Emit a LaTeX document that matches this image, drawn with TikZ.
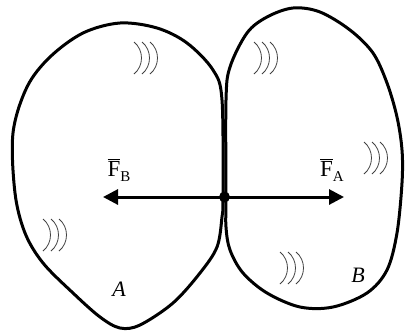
\documentclass[tikz,border=0pt]{standalone}
\usepackage{fontspec}
\setmainfont{Liberation Serif}
\usetikzlibrary{arrows.meta}
\newcommand{\forcelbl}[1]{$\overline{\hbox{F}}$\raisebox{-5pt}{\fontsize{15}{15}\selectfont #1}}
\begin{document}
\begin{tikzpicture}[x=1pt,y=-1pt,
  blob/.style={line width=3pt, line join=round},
  force/.style={line width=3pt, -{Triangle[length=15pt,width=15pt]}},
  lbl/.style={font=\fontsize{23}{25}\selectfont, inner sep=0pt},
  body/.style={font=\fontsize{22}{24}\selectfont\itshape, inner sep=0pt},
  hatch/.pic={\foreach \dx in {0,8,16}{\draw[line width=0.8pt, black!75] ([xshift=\dx pt]-3,-16) .. controls (7+\dx,-8) and (7+\dx,8) .. (-3+\dx,16);}}]
\useasboundingbox (0,0) rectangle (405,333);
% body A
\draw[blob] plot[smooth cycle, tension=0.55] coordinates {
 (223,197) (222,217) (217,247) (200,273) (173,303) (140,325) (120,328) (100,317)
 (73,293) (43,263) (25,233) (15,193) (13,133) (27,87) (50,57) (83,33) (120,23)
 (157,28) (187,43) (213,70) (222,100)};
% body B
\draw[blob] plot[smooth cycle, tension=0.55] coordinates {
 (226,197) (226,100) (230,67) (247,33) (267,17) (293,8) (320,12) (350,30)
 (373,53) (387,83) (397,117) (402,150) (402,183) (397,233) (387,270) (367,293)
 (333,307) (300,307) (267,293) (243,273) (230,250) (226,227)};
% hatch marks
\pic at (137,58) {hatch};
\pic at (46,235) {hatch};
\pic at (257,58) {hatch};
\pic at (367,158) {hatch};
\pic at (283,268) {hatch};
% forces
\node[circle, fill=black, minimum size=11pt, inner sep=0pt] (contact) at (224.5,197) {};
\coordinate (fb) at (103,197);
\coordinate (fa) at (344,197);
\draw[force] (contact.center) -- (fb);
\draw[force] (contact.center) -- (fa);
\node[lbl] (FB) at (119,170) {\forcelbl{B}};
\node[lbl] (FA) at (332,170) {\forcelbl{A}};
\node[body] (A) at (119,289) {A};
\node[body] (B) at (358,275) {B};
\end{tikzpicture}
\end{document}
